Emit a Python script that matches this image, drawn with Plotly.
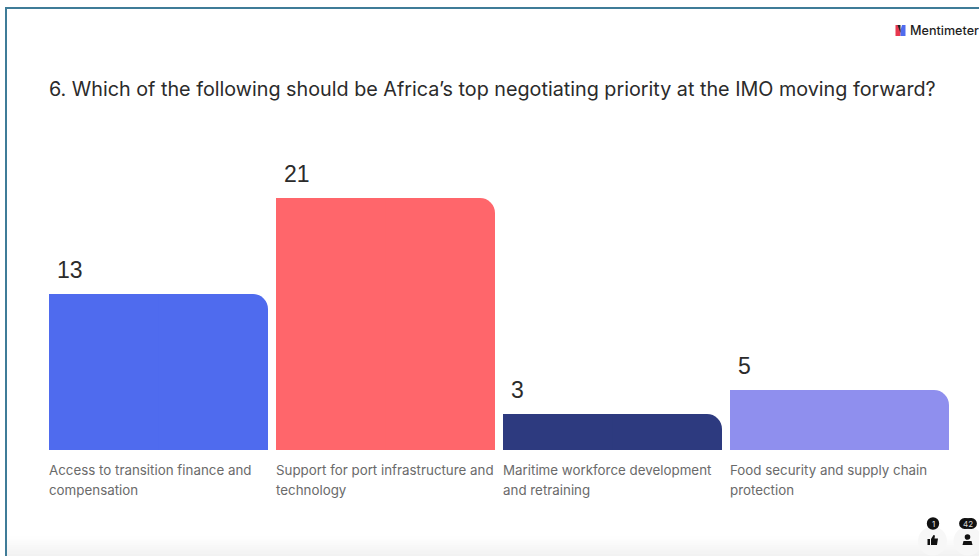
import plotly.graph_objects as go

W, H = 979, 556

# Poll results
question = "6. Which of the following should be Africa’s top negotiating priority at the IMO moving forward?"
category_lines = [
    ["Access to transition finance and", "compensation"],
    ["Support for port infrastructure and", "technology"],
    ["Maritime workforce development", "and retraining"],
    ["Food security and supply chain", "protection"],
]
votes = [13, 21, 3, 5]
bar_colors = ["#4F6BEE", "#FF666B", "#2D3A7F", "#8F8FEE"]

BAR_WIDTH = 219 / 227
LABEL_LINE_GAP = 20
positions = list(range(len(votes)))


def px(x):
    return x / W


def py(y):
    return 1 - y / H


def page_rect(x0, y0, x1, y1, color):
    return dict(type="rect", xref="paper", yref="paper", x0=px(x0), x1=px(x1),
                y0=py(y1), y1=py(y0), fillcolor=color, line_width=0, layer="below")


def page_path(points, color):
    d = "M" + " L".join(f"{px(a):.5f},{py(b):.5f}" for a, b in points) + " Z"
    return dict(type="path", xref="paper", yref="paper", path=d,
                fillcolor=color, line_width=0, layer="below")


def page_circle(cx, cy, rx, ry, color):
    return dict(type="circle", xref="paper", yref="paper", x0=px(cx - rx), x1=px(cx + rx),
                y0=py(cy + ry), y1=py(cy - ry), fillcolor=color, line_width=0, layer="below")


fig = go.Figure()

# Rounded bars; the second trace squares off each bar's top-left corner
fig.add_bar(x=positions, y=votes, width=BAR_WIDTH, offset=-BAR_WIDTH / 2,
            marker=dict(color=bar_colors, cornerradius=15, line_width=0), hoverinfo="skip")
fig.add_bar(x=positions, y=votes, width=BAR_WIDTH / 2, offset=-BAR_WIDTH / 2,
            marker=dict(color=bar_colors, line_width=0), hoverinfo="skip")

annotations = [
    dict(text=question, xref="paper", yref="paper", x=px(47), y=py(89), xanchor="left",
         yanchor="middle", showarrow=False, font=dict(family="Inter", size=19.75, color="#2b2b2b")),
    dict(text="Mentimeter", xref="paper", yref="paper", x=px(908), y=py(30.5), xanchor="left",
         yanchor="middle", showarrow=False,
         font=dict(family="Inter", size=12.6, color="#1f1f1f", weight=500)),
    dict(text="1", xref="paper", yref="paper", x=px(933), y=py(523.5), xanchor="center",
         yanchor="middle", showarrow=False, font=dict(family="Inter", size=8, color="#e8e8e8")),
    dict(text="42", xref="paper", yref="paper", x=px(968), y=py(523.5), xanchor="center",
         yanchor="middle", showarrow=False, font=dict(family="Inter", size=8, color="#d8d8d8")),
]

for pos, count, lines in zip(positions, votes, category_lines):
    annotations.append(dict(
        text=str(count), x=pos - BAR_WIDTH / 2, y=count, xref="x", yref="y",
        xanchor="left", yanchor="middle", xshift=6, yshift=24, showarrow=False,
        font=dict(family="Liberation Sans", size=23, color="#2b2b2b")))
    for row, line in enumerate(lines):
        annotations.append(dict(
            text=line, x=pos - BAR_WIDTH / 2, y=0, xref="x", yref="y", align="left",
            xanchor="left", yanchor="top", xshift=-2, yshift=-10 - row * LABEL_LINE_GAP,
            showarrow=False, font=dict(family="Inter", size=13.35, color="#6a6a6a")))

shapes = []

# Soft grey band along the bottom edge
for i in range(10):
    level = 255 - (i * 13) // 9
    shapes.append(page_rect(6, 534 + i * 2.2, W, 556, f"rgb({level},{level},{level})"))

# Window border
shapes.append(page_rect(5, 7, W, 9, "#3F7C98"))
shapes.append(page_rect(5, 7, 7, H, "#3F7C98"))

# Brand mark
shapes.append(page_path([(895.5, 25), (899, 25), (900.5, 30), (900.5, 36), (895.5, 36)], "#E8384F"))
shapes.append(page_path([(900.5, 30), (902, 25), (905.5, 25), (905.5, 36), (900.5, 36)], "#4F6BEE"))
shapes.append(page_path([(897.5, 25), (900.5, 25), (900.5, 33)], "#222222"))

# Reaction and participant indicators
shapes.append(page_circle(932.5, 541, 14.5, 14.5, "#F7F7F7"))
shapes.append(page_circle(968, 541, 14.5, 14.5, "#F7F7F7"))
shapes.append(page_circle(933, 523.5, 6.2, 6.2, "#111111"))
shapes.append(page_circle(964.5, 523.5, 5.4, 5.4, "#111111"))
shapes.append(page_circle(971.5, 523.5, 5.4, 5.4, "#111111"))
shapes.append(page_rect(964.5, 518.1, 971.5, 528.9, "#111111"))
shapes.append(page_path([(927.5, 539), (930, 539), (930, 545), (927.5, 545)], "#111111"))
shapes.append(page_path([(931, 539), (933.5, 535), (935, 535.5), (934.5, 538.5),
                         (938, 538.5), (937, 545), (931, 545)], "#111111"))
shapes.append(page_circle(967.5, 537, 2.8, 2.8, "#111111"))
shapes.append(page_path([(962.5, 545), (963.5, 541), (971.5, 541), (972.5, 545)], "#111111"))

fig.update_layout(
    width=W, height=H, margin=dict(l=0, r=0, t=0, b=0), autosize=False,
    paper_bgcolor="white", plot_bgcolor="white", showlegend=False,
    barmode="overlay", annotations=annotations, shapes=shapes,
    xaxis=dict(domain=[px(45), px(953)], range=[-0.5, 3.5], visible=False),
    yaxis=dict(domain=[py(450), py(150)], range=[0, 25], visible=False),
)

fig.write_html("out.html", config=dict(displayModeBar=False))
